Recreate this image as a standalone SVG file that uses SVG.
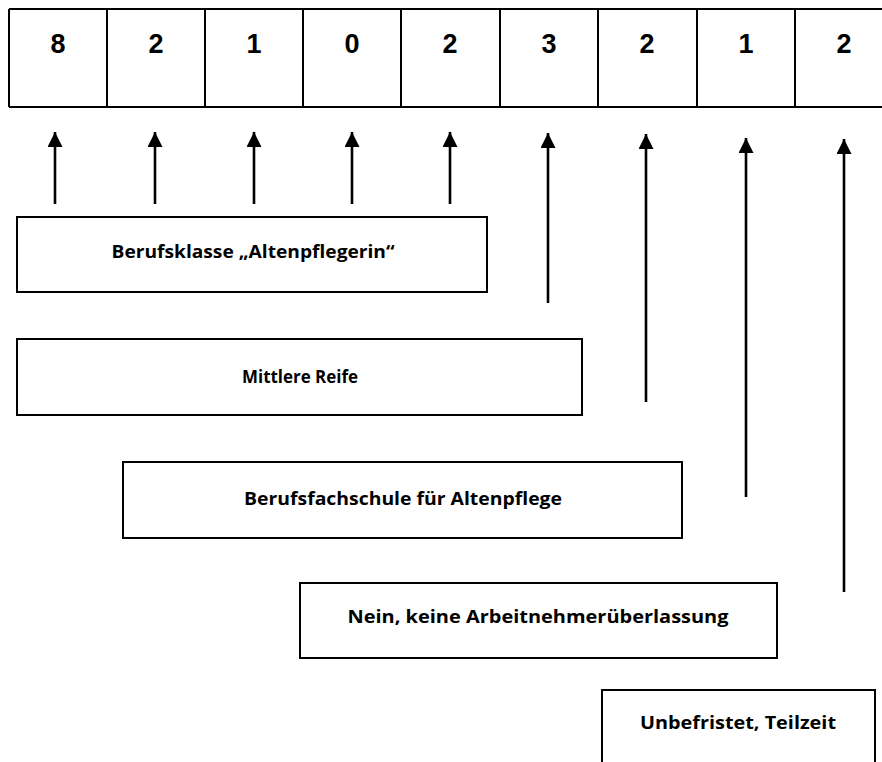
<svg xmlns="http://www.w3.org/2000/svg" width="882" height="762" viewBox="0 0 882 762">
<style>
.cell{fill:none;stroke:#000;stroke-width:2}
.num{font-family:"Liberation Sans",Arial,sans-serif;font-weight:bold;font-size:27px;fill:#000;text-anchor:middle}
.box{fill:#fff;stroke:#000;stroke-width:2}
.lbl{font-family:"Open Sans","Liberation Sans",sans-serif;font-weight:bold;font-size:17px;fill:#000;text-anchor:middle}
.arr{stroke:#000;stroke-width:2.6;fill:none;marker-end:url(#ah)}
</style>
<defs>
<marker id="ah" markerUnits="userSpaceOnUse" markerWidth="16" markerHeight="15" refX="15" refY="7.5" orient="auto">
<path d="M0,0 L15,7.5 L0,15 Z" fill="#000"/>
</marker>
</defs>
<g id="table">
<path class="cell" d="M9,9 H890 M9,107 H890 M9,9 V107 M107,9 V107 M205,9 V107 M303,9 V107 M401,9 V107 M500,9 V107 M598,9 V107 M697,9 V107 M795,9 V107"/>
<text class="num" x="58" y="53">8</text>
<text class="num" x="156" y="53">2</text>
<text class="num" x="254" y="53">1</text>
<text class="num" x="352" y="53">0</text>
<text class="num" x="450" y="53">2</text>
<text class="num" x="549" y="53">3</text>
<text class="num" x="647" y="53">2</text>
<text class="num" x="746" y="53">1</text>
<text class="num" x="844" y="53">2</text>
</g>
<g id="connectors">
<line class="arr" x1="55" y1="204" x2="55" y2="132"/>
<line class="arr" x1="155" y1="204" x2="155" y2="132"/>
<line class="arr" x1="254" y1="204" x2="254" y2="132"/>
<line class="arr" x1="352" y1="204" x2="352" y2="132"/>
<line class="arr" x1="450" y1="204" x2="450" y2="132"/>
<line class="arr" x1="548" y1="303" x2="548" y2="133"/>
<line class="arr" x1="646" y1="402" x2="646" y2="134"/>
<line class="arr" x1="746" y1="497" x2="746" y2="138"/>
<line class="arr" x1="844" y1="592" x2="844" y2="139"/>
</g>
<g id="node1">
<rect class="box" x="17" y="217" width="470" height="75"/>
<text class="lbl" x="253" y="258" textLength="283" lengthAdjust="spacingAndGlyphs">Berufsklasse „Altenpflegerin“</text>
</g>
<g id="node2">
<rect class="box" x="17" y="339" width="565" height="76"/>
<text class="lbl" x="300" y="383" textLength="116" lengthAdjust="spacingAndGlyphs">Mittlere Reife</text>
</g>
<g id="node3">
<rect class="box" x="123" y="462" width="559" height="76"/>
<text class="lbl" x="403" y="505" textLength="318" lengthAdjust="spacingAndGlyphs">Berufsfachschule für Altenpflege</text>
</g>
<g id="node4">
<rect class="box" x="300" y="583" width="477" height="75"/>
<text class="lbl" x="538" y="623" textLength="381" lengthAdjust="spacingAndGlyphs">Nein, keine Arbeitnehmerüberlassung</text>
</g>
<g id="node5">
<rect class="box" x="602" y="690" width="273" height="90"/>
<text class="lbl" x="738" y="729" textLength="196" lengthAdjust="spacingAndGlyphs">Unbefristet, Teilzeit</text>
</g>
</svg>
